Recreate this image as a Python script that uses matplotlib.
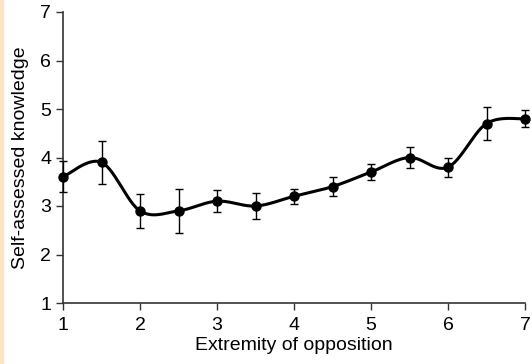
import numpy as np
import matplotlib.pyplot as plt
from matplotlib.patches import Rectangle

plt.rcParams['font.family'] = ['Liberation Sans', 'DejaVu Sans']

extremity = [1, 1.5, 2, 2.5, 3, 3.5, 4, 4.5, 5, 5.5, 6, 6.5, 7]
knowledge = [3.6, 3.9, 2.9, 2.9, 3.1, 3.0, 3.2, 3.4, 3.7, 4.0, 3.8, 4.7, 4.8]
error = [0.32, 0.45, 0.35, 0.45, 0.22, 0.27, 0.15, 0.2, 0.16, 0.22, 0.2, 0.34, 0.17]


def smooth(xs, ys, n=30):
    # Catmull-Rom curve through the points, like a spreadsheet "smoothed line"
    px = np.concatenate([[xs[0]], xs, [xs[-1]]])
    py = np.concatenate([[ys[0]], ys, [ys[-1]]])
    t = np.linspace(0, 1, n)
    out_x, out_y = [], []
    for i in range(1, len(px) - 2):
        for p, o in ((px, out_x), (py, out_y)):
            p0, p1, p2, p3 = p[i - 1], p[i], p[i + 1], p[i + 2]
            o.extend(0.5 * (2 * p1 + (-p0 + p2) * t
                            + (2 * p0 - 5 * p1 + 4 * p2 - p3) * t ** 2
                            + (-p0 + 3 * p1 - 3 * p2 + p3) * t ** 3))
    return out_x, out_y


fig = plt.figure(figsize=(5.32, 3.64), dpi=100)
fig.patches.append(Rectangle((0, 0), 0.006, 1, transform=fig.transFigure,
                             color='#fde3c4', zorder=0))
ax = fig.add_axes([63 / 532, 1 - 303 / 364, 462 / 532, 291 / 364])

sx, sy = smooth(np.array(extremity, float), np.array(knowledge, float))
ax.plot(sx, sy, color='black', lw=2.2, clip_on=False, zorder=3)
ax.errorbar(extremity, knowledge, yerr=error, fmt='o', color='black',
            ms=6.5, elinewidth=1.0, capsize=3, capthick=1.0, clip_on=False, zorder=4)

ax.set_xlim(1, 7)
ax.set_ylim(1, 7)
ax.set_xticks(range(1, 8))
ax.set_yticks(range(1, 8))
ax.set_xticks(np.arange(1.5, 7, 1), minor=True)
ax.set_yticks(np.arange(1.5, 7, 1), minor=True)
ax.tick_params(which='major', labelsize=14, length=5, width=1, color='#333333')
ax.tick_params(axis='x', pad=5)
ax.tick_params(which='minor', length=0)
for side in ('top', 'right'):
    ax.spines[side].set_visible(False)
for side in ('left', 'bottom'):
    ax.spines[side].set_color('#333333')
    ax.spines[side].set_linewidth(1.2)

ax.set_xlabel('Extremity of opposition', fontsize=14, labelpad=2)
ax.set_ylabel('Self-assessed knowledge', fontsize=14, labelpad=8)

fig.savefig('out.png', dpi=100)
